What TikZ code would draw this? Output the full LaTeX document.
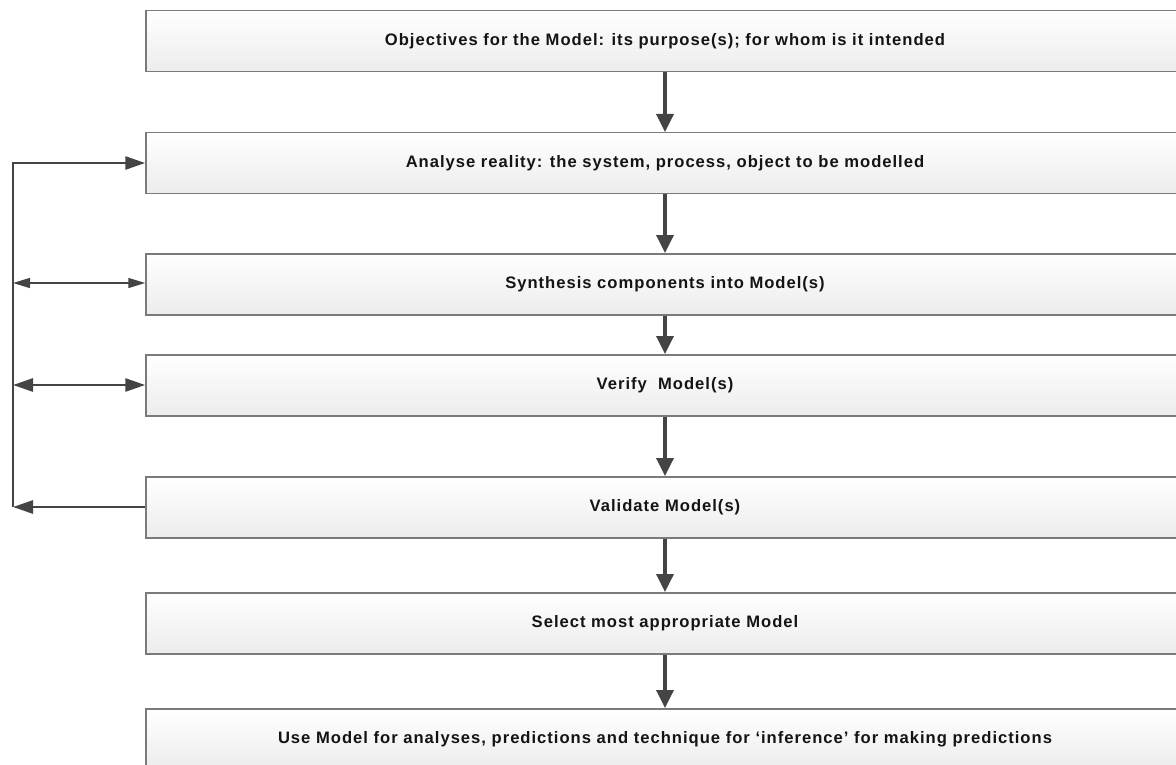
\documentclass[tikz,border=0pt]{standalone}
\usepackage{fontspec}
\setmainfont{Liberation Sans}[LetterSpace=6]
\usetikzlibrary{arrows.meta}
\definecolor{boxline}{HTML}{7A7A7A}
\definecolor{boxbot}{HTML}{ECECEC}
\definecolor{arrowcol}{HTML}{444444}
\definecolor{txt}{HTML}{141414}
\begin{document}
\begin{tikzpicture}[x=1pt,y=-1pt,
  stepbox/.style={draw=boxline, line width=1.5pt, top color=white, bottom color=boxbot,
    minimum width=1038pt, minimum height=61pt, inner sep=0pt, anchor=north,
    font=\fontsize{16.6}{19}\selectfont\bfseries, text=txt},
  down/.style={draw=arrowcol, line width=3.5pt, -{Triangle[length=18pt,width=17pt]}},
  fbthick/.style={draw=arrowcol, line width=2.8pt},
  fbthin/.style={draw=arrowcol, line width=1.4pt},
  headL/.tip={Triangle[length=20pt,width=13pt]},
  headS/.tip={Triangle[length=17pt,width=10pt]}
]
\useasboundingbox (0,0) rectangle (1176,765);
\begin{scope}
\clip (0,0) rectangle (1176,765);
\node[stepbox] (obj)      at (665,10)  {Objectives for the Model: its purpose(s); for whom is it intended};
\node[stepbox] (analyse)  at (665,132) {Analyse reality: the system, process, object to be modelled};
\node[stepbox] (synth)    at (665,253) {Synthesis components into Model(s)};
\node[stepbox] (verify)   at (665,354) {Verify~ Model(s)};
\node[stepbox] (validate) at (665,476) {Validate Model(s)};
\node[stepbox] (select)   at (665,592) {Select most appropriate Model};
\node[stepbox] (use)      at (665,708) {Use Model for analyses, predictions and technique for ‘inference’ for making predictions};

% main flow
\draw[down] (obj.south)      -- (analyse.north);
\draw[down] (analyse.south)  -- (synth.north);
\draw[down] (synth.south)    -- (verify.north);
\draw[down] (verify.south)   -- (validate.north);
\draw[down] (validate.south) -- (select.north);
\draw[down] (select.south)   -- (use.north);

% feedback loop on the left
\coordinate (fbtop) at (13,163);
\coordinate (fbsyn) at (13,283);
\coordinate (fbver) at (13,385);
\coordinate (fbval) at (13,507);
\draw[fbthick, -headL] (validate.west |- fbval) -- (fbval);
\draw[fbthick, line join=miter, -headL] (fbval) -- (fbtop) -- (analyse.west |- fbtop);
\draw[fbthin, headS-headS] (fbsyn) -- (synth.west |- fbsyn);
\draw[fbthick, headL-headL] (fbver) -- (verify.west |- fbver);
\end{scope}
\end{tikzpicture}
\end{document}
